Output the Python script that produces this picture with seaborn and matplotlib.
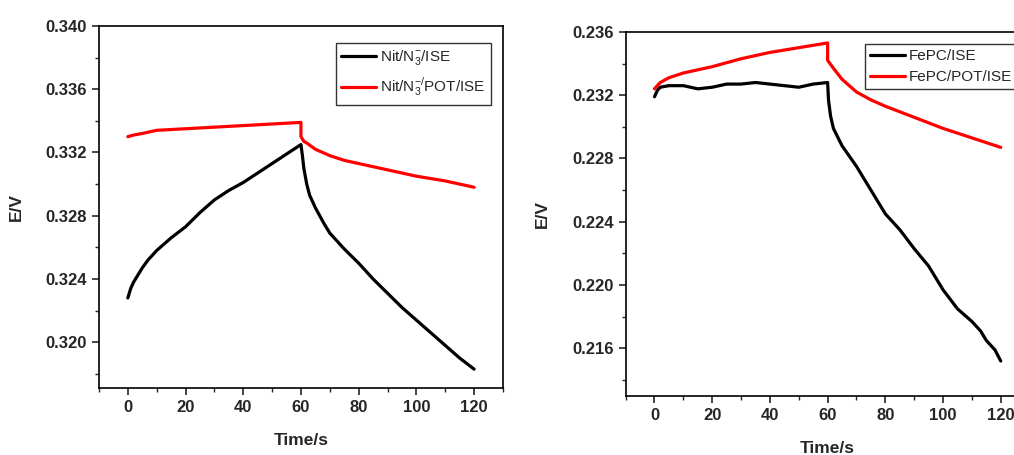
import numpy as np
import pandas as pd
import matplotlib
matplotlib.use("Agg")
import matplotlib.pyplot as plt
import seaborn as sns
from matplotlib.ticker import MultipleLocator, FormatStrFormatter

#--------------------------------Data----------------------------#
# left panel: Nit/N3- electrodes
t_nit = [0, 1, 2, 3, 5, 7, 10, 15, 20, 25, 30, 35, 40, 45, 50, 55, 60,
         60.5, 61, 62, 63, 65, 68, 70, 75, 80, 85, 90, 95, 100, 105, 110, 115, 120]
e_nit = [0.3228, 0.3234, 0.3238, 0.3241, 0.3247, 0.3252, 0.3258, 0.3266, 0.3273, 0.3282,
         0.3290, 0.3296, 0.3301, 0.3307, 0.3313, 0.3319, 0.3325,
         0.3318, 0.3310, 0.3300, 0.3293, 0.3285, 0.3275, 0.3269, 0.3259, 0.3250,
         0.3240, 0.3231, 0.3222, 0.3214, 0.3206, 0.3198, 0.3190, 0.3183]

t_nit_pot = [0, 2, 5, 10, 20, 30, 40, 50, 60,
             60, 61, 62, 65, 70, 75, 80, 90, 100, 110, 115, 120]
e_nit_pot = [0.3330, 0.3331, 0.3332, 0.3334, 0.3335, 0.3336, 0.3337, 0.3338, 0.3339,
             0.3330, 0.3327, 0.3326, 0.3322, 0.3318, 0.3315, 0.3313, 0.3309,
             0.3305, 0.3302, 0.3300, 0.3298]

# right panel: FePC electrodes
t_fepc = [0, 1, 2, 5, 10, 15, 20, 25, 30, 35, 40, 45, 50, 55, 60,
          60.3, 61, 62, 65, 70, 75, 80, 85, 90, 95, 100, 105, 110, 113, 115, 118, 120]
e_fepc = [0.2319, 0.2323, 0.2325, 0.2326, 0.2326, 0.2324, 0.2325, 0.2327, 0.2327,
          0.2328, 0.2327, 0.2326, 0.2325, 0.2327, 0.2328,
          0.2317, 0.2307, 0.2299, 0.2288, 0.2275, 0.2260, 0.2245, 0.2235, 0.2223,
          0.2212, 0.2197, 0.2185, 0.2177, 0.2171, 0.2165, 0.2159, 0.2152]

t_fepc_pot = [0, 2, 5, 10, 20, 30, 40, 50, 60,
              60, 62, 65, 70, 75, 80, 90, 100, 110, 120]
e_fepc_pot = [0.2324, 0.2328, 0.2331, 0.2334, 0.2338, 0.2343, 0.2347, 0.2350, 0.2353,
              0.2342, 0.2337, 0.2330, 0.2322, 0.2317, 0.2313, 0.2306, 0.2299, 0.2293, 0.2287]

labels_left = [r'Nit/N$_3^{-}$/ISE', r'Nit/N$_3^{-/}$POT/ISE']
labels_right = ['FePC/ISE', 'FePC/POT/ISE']

#--------------------------------Plot----------------------------#
sns.set_style("ticks")
plt.rcParams['font.family'] = ['Liberation Sans', 'DejaVu Sans']
plt.rcParams['mathtext.fontset'] = 'custom'
plt.rcParams['mathtext.rm'] = 'Liberation Sans'

fig = plt.figure(figsize=(10.14, 4.55), dpi=100)
ax1 = fig.add_axes([0.0976, 0.147, 0.3984, 0.796])
ax2 = fig.add_axes([0.617, 0.130, 0.3984, 0.800])


def draw_panel(ax, t_a, e_a, t_b, e_b, labels, ylim, leg_anchor, leg_spacing):
    sns.lineplot(x=t_a, y=e_a, ax=ax, color='black', lw=2.3, label=labels[0],
                 sort=False, estimator=None)
    sns.lineplot(x=t_b, y=e_b, ax=ax, color='red', lw=2.3, label=labels[1],
                 sort=False, estimator=None)
    ax.set_xlim(-10, 130)
    ax.set_ylim(*ylim)
    ax.xaxis.set_major_locator(MultipleLocator(20))
    ax.xaxis.set_minor_locator(MultipleLocator(10))
    ax.yaxis.set_major_locator(MultipleLocator(0.004))
    ax.yaxis.set_minor_locator(MultipleLocator(0.002))
    ax.yaxis.set_major_formatter(FormatStrFormatter('%.3f'))
    ax.tick_params(which='major', direction='out', length=5, width=1.2,
                   labelsize=12, top=False, right=False)
    ax.tick_params(which='minor', direction='out', length=3, width=1.0,
                   top=False, right=False)
    for lab in ax.get_xticklabels() + ax.get_yticklabels():
        lab.set_fontweight('bold')
    for sp in ax.spines.values():
        sp.set_visible(True)
        sp.set_linewidth(1.2)
        sp.set_color('black')
    ax.set_xlabel('Time/s', fontsize=12.5, fontweight='bold', labelpad=13)
    ax.set_ylabel('E/V', fontsize=12.5, fontweight='bold', labelpad=16)
    leg = ax.legend(loc='upper right', bbox_to_anchor=leg_anchor, fontsize=11,
                    frameon=True, fancybox=False, edgecolor='black',
                    handlelength=2.3, handletextpad=0.25, borderpad=0.35,
                    labelspacing=leg_spacing, borderaxespad=0)
    leg.get_frame().set_linewidth(1.0)


draw_panel(ax1, t_nit, e_nit, t_nit_pot, e_nit_pot, labels_left,
           (0.3171, 0.340), (0.97, 0.953), 0.55)
draw_panel(ax2, t_fepc, e_fepc, t_fepc_pot, e_fepc_pot, labels_right,
           (0.2130, 0.236), (0.97, 0.967), 0.45)

fig.savefig('out.png', dpi=100)
